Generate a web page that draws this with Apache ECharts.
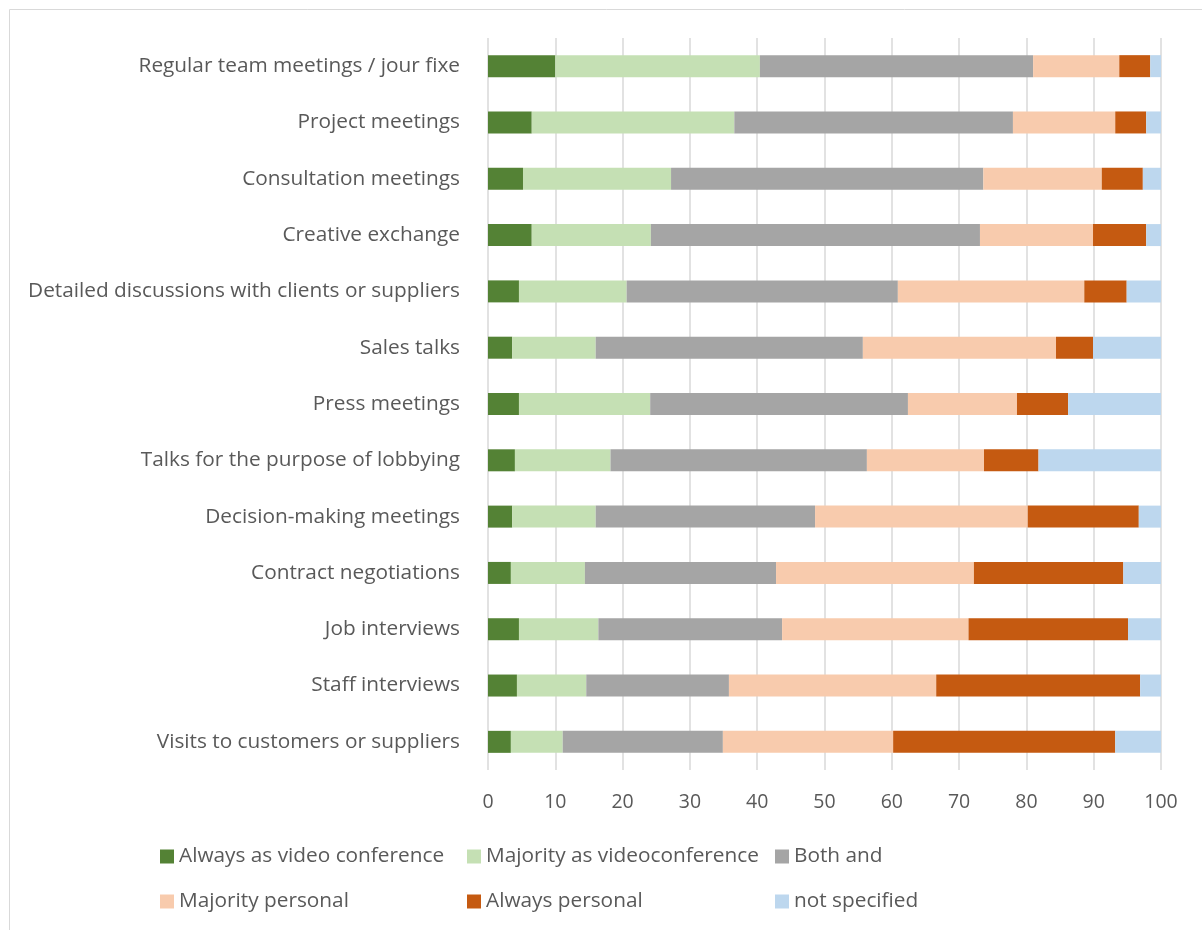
<!DOCTYPE html>
<html>
<head>
<meta charset="utf-8">
<script src="https://cdn.jsdelivr.net/npm/echarts@6/dist/echarts.min.js"></script>
<style>html,body{margin:0;padding:0;background:#fff;}#c{width:1202px;height:930px;}</style>
</head>
<body>
<div id="c"></div>
<script>
const categories = [
  "Regular team meetings / jour fixe",
  "Project meetings",
  "Consultation meetings",
  "Creative exchange",
  "Detailed discussions with clients or suppliers",
  "Sales talks",
  "Press meetings",
  "Talks for the purpose of lobbying",
  "Decision-making meetings",
  "Contract negotiations",
  "Job interviews",
  "Staff interviews",
  "Visits to customers or suppliers"
];
const seriesNames = ["Always as video conference","Majority as videoconference","Both and","Majority personal","Always personal","not specified"];
const alwaysVideo   = [10.0, 6.5, 5.2, 6.5, 4.6, 3.6, 4.6, 4.0, 3.6, 3.4, 4.6, 4.3, 3.4];
const majorityVideo = [30.4, 30.1, 22.0, 17.7, 16.0, 12.4, 19.5, 14.2, 12.4, 11.0, 11.8, 10.3, 7.7];
const bothAnd       = [40.6, 41.4, 46.4, 48.9, 40.3, 39.7, 38.3, 38.1, 32.6, 28.4, 27.3, 21.2, 23.8];
const majorityPers  = [12.8, 15.2, 17.6, 16.8, 27.7, 28.7, 16.2, 17.4, 31.6, 29.4, 27.7, 30.8, 25.3];
const alwaysPers    = [4.6, 4.6, 6.1, 7.9, 6.3, 5.5, 7.6, 8.1, 16.5, 22.2, 23.7, 30.3, 33.0];
const notSpecified  = [1.6, 2.2, 2.7, 2.2, 5.1, 10.1, 13.8, 18.2, 3.3, 5.6, 4.9, 3.1, 6.8];
const xTicks = [0,10,20,30,40,50,60,70,80,90,100];

const values = [alwaysVideo, majorityVideo, bothAnd, majorityPers, alwaysPers, notSpecified];
const colors = ["#548235","#C5E0B4","#A5A5A5","#F8CBAD","#C55A11","#BDD7EE"];
const FONT = "Open Sans";
const TXT = "#595959";

const chart = echarts.init(document.getElementById('c'));
const legendPos = [[160,846],[467,846],[775,846],[160,891],[467,891],[775,891]];
chart.setOption({
  animation: false,
  textStyle: {fontFamily: FONT},
  graphic: [{type:'rect', shape:{x:9.5,y:9.5,width:1210,height:940}, style:{fill:'none', stroke:'#d9d9d9', lineWidth:1}, silent:true}],
  grid: {left: 488, right: 41, top: 38, bottom: 160, containLabel: false},
  legend: seriesNames.map((n,i)=>({
    data:[n], left: legendPos[i][0], top: legendPos[i][1], itemWidth:14, itemHeight:14, itemGap:6,
    icon:'rect', textStyle:{color:TXT, fontSize:20.8, fontFamily:FONT, padding:[0,0,0,0]}, padding:0
  })),
  xAxis: {
    type:'value', min:0, max:100, interval:10,
    axisLine:{show:false}, axisTick:{show:false},
    splitLine:{show:true, lineStyle:{color:'#d9d9d9', width:1.5}},
    axisLabel:{color:TXT, fontSize:19.5, fontFamily:FONT, margin:22,
      formatter: v => xTicks.includes(v) ? String(v) : ''}
  },
  yAxis: {
    type:'category', data: categories, inverse:true,
    axisLine:{show:false}, axisTick:{show:false},
    axisLabel:{color:TXT, fontSize:20.8, fontFamily:FONT, margin:28}
  },
  series: seriesNames.map((n,i)=>({
    name:n, type:'bar', stack:'total', barWidth:22, data: values[i],
    itemStyle:{color:colors[i]}
  }))
});
</script>
</body>
</html>
